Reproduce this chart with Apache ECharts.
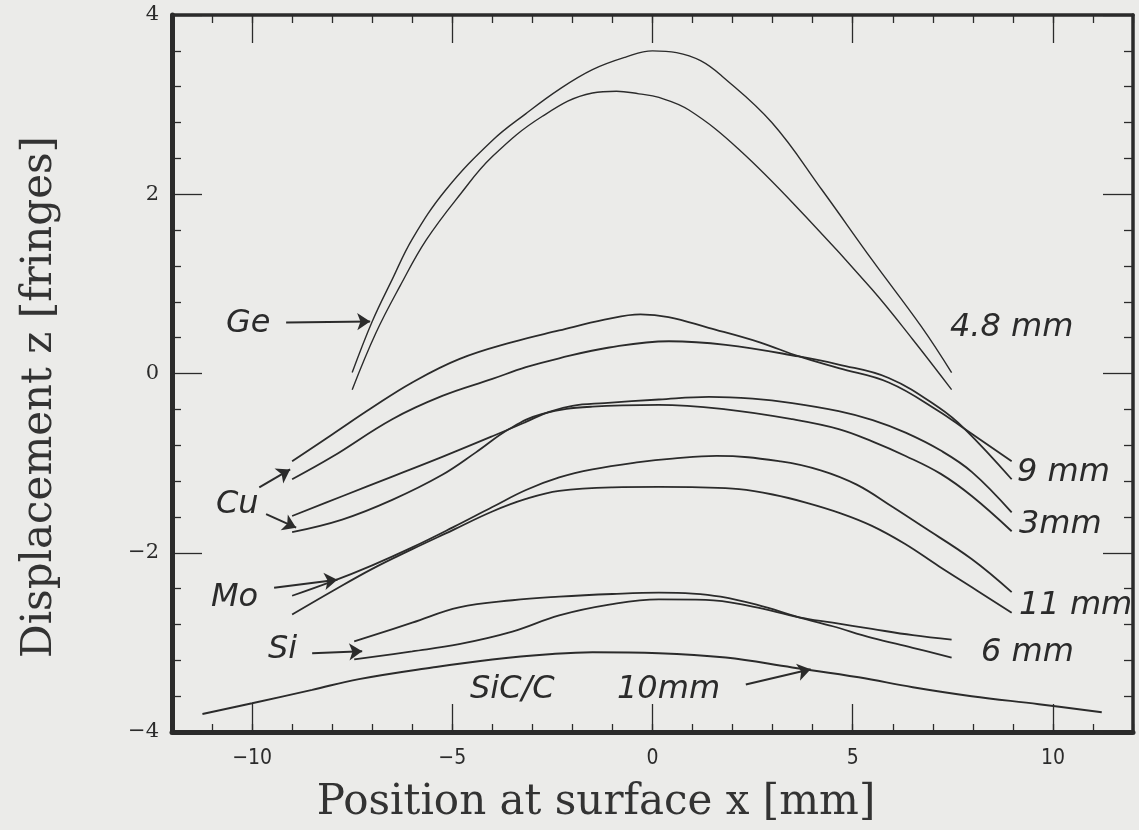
<!DOCTYPE html>
<html>
<head>
<meta charset="utf-8">
<script src="https://cdn.jsdelivr.net/npm/echarts@6/dist/echarts.min.js"></script>
<style>
html, body { margin: 0; background: #ebebe9; }
#chart { width: 1139px; height: 830px; }
</style>
</head>
<body>
<div id="chart"></div>
<script>
// measured curves, [x mm, z fringes]
var geOuter = [[-7.5,0.01],[-7.0,0.58],[-6.5,1.05],[-6.0,1.5],[-5.16,2.05],[-4.0,2.6],[-3.16,2.9],[-2.33,3.17],[-1.5,3.39],[-0.67,3.53],[0.0,3.6],[0.6,3.58],[1.2,3.49],[1.73,3.32],[2.98,2.8],[4.23,2.05],[5.48,1.27],[6.72,0.52],[7.47,0.01]];
var geInner = [[-7.5,-0.18],[-6.9,0.46],[-6.3,0.98],[-5.65,1.49],[-4.8,2.0],[-4.0,2.42],[-2.75,2.87],[-1.5,3.13],[-0.9,3.15],[-0.34,3.12],[0.16,3.08],[0.91,2.94],[2.16,2.5],[3.83,1.75],[5.48,0.94],[6.5,0.38],[7.47,-0.18]];
var cu9a = [[-9,-0.98],[-8,-0.68],[-7,-0.38],[-6,-0.1],[-4.83,0.16],[-3.5,0.35],[-2.33,0.48],[-1.2,0.6],[-0.3,0.66],[0.4,0.63],[1.4,0.51],[2.66,0.35],[3.66,0.19],[4.65,0.06],[5.9,-0.1],[7.15,-0.42],[7.8,-0.62],[8.97,-0.98]];
var cu9b = [[-9,-1.18],[-8,-0.93],[-6.5,-0.51],[-5.25,-0.25],[-4,-0.06],[-3.16,0.07],[-2.33,0.17],[-1.08,0.29],[0.41,0.36],[1.83,0.32],[3.66,0.19],[4.65,0.1],[5.9,-0.05],[7.15,-0.38],[7.8,-0.62],[8.97,-1.18]];
var cu3a = [[-9,-1.59],[-7.75,-1.37],[-6.5,-1.15],[-5.25,-0.93],[-4,-0.7],[-3.16,-0.54],[-2.6,-0.43],[-2,-0.36],[-1.2,-0.33],[0.16,-0.29],[1.41,-0.26],[2.5,-0.28],[3.49,-0.33],[4.65,-0.42],[5.5,-0.52],[6.32,-0.66],[7.2,-0.86],[7.98,-1.1],[8.97,-1.55]];
var cu3b = [[-9,-1.77],[-7.75,-1.63],[-6.5,-1.41],[-5.25,-1.13],[-4.41,-0.88],[-3.58,-0.62],[-2.75,-0.45],[-1.5,-0.37],[0.16,-0.35],[1.83,-0.4],[3.49,-0.51],[4.65,-0.62],[5.5,-0.76],[6.32,-0.92],[7.2,-1.12],[7.98,-1.37],[8.97,-1.76]];
var mo11a = [[-9,-2.48],[-8,-2.32],[-7,-2.14],[-6,-1.94],[-5,-1.72],[-4,-1.49],[-3.16,-1.3],[-2.33,-1.16],[-1.5,-1.07],[-0.34,-0.99],[0.5,-0.95],[1.6,-0.92],[3.2,-0.98],[4.2,-1.08],[5.1,-1.24],[6.0,-1.49],[6.72,-1.7],[7.97,-2.07],[8.97,-2.44]];
var mo11b = [[-9,-2.69],[-8,-2.43],[-7,-2.18],[-6,-1.96],[-5,-1.75],[-4,-1.54],[-3.16,-1.4],[-2.33,-1.31],[-1,-1.27],[0.16,-1.265],[1.2,-1.27],[2.16,-1.29],[3.0,-1.35],[3.83,-1.44],[4.7,-1.56],[5.48,-1.7],[6.3,-1.9],[7.15,-2.15],[8.1,-2.42],[8.97,-2.67]];
var si6a = [[-7.45,-2.99],[-6,-2.78],[-4.83,-2.61],[-3.5,-2.53],[-2.33,-2.49],[-1,-2.46],[0.16,-2.445],[1.0,-2.455],[1.7,-2.49],[2.6,-2.58],[3.66,-2.72],[4.5,-2.82],[5.48,-2.95],[6.5,-3.06],[7.47,-3.17]];
var si6b = [[-7.45,-3.19],[-6,-3.1],[-4.83,-3.02],[-3.5,-2.88],[-2.33,-2.7],[-1.08,-2.58],[0.16,-2.52],[1.33,-2.525],[2.5,-2.6],[3.66,-2.72],[4.5,-2.78],[5.48,-2.85],[6.5,-2.92],[7.47,-2.97]];
var sic10 = [[-11.24,-3.8],[-10,-3.68],[-8.5,-3.53],[-7.33,-3.41],[-5.5,-3.28],[-4,-3.19],[-2.5,-3.13],[-1.5,-3.11],[0.16,-3.12],[1.83,-3.17],[3.49,-3.28],[5.15,-3.39],[6.5,-3.5],[7.97,-3.6],[9.65,-3.69],[11.22,-3.78]];

var xMajorTicks = [-10, -5, 0, 5, 10];

// annotation arrows, from label to curve, in data units
var arrows = [
	[[-9.15, 0.57], [-7.05, 0.58]],
	[[-9.82, -1.27], [-9.05, -1.07]],
	[[-9.65, -1.57], [-8.9, -1.72]],
	[[-9.45, -2.39], [-7.87, -2.3]],
	[[-8.5, -3.12], [-7.25, -3.1]],
	[[2.33, -3.47], [3.95, -3.3]]
];

var INK = '#2b2b2b';
var LABELFONT = 'italic 32px "DejaVu Sans"';
var TITLEFONT = '"DejaVu Serif"';

function curve(name, data, width){
	return {
		name: name,
		type: 'line',
		data: data,
		smooth: 0.4,
		showSymbol: false,
		silent: true,
		lineStyle: { color: INK, width: width }
	};
}

function label(text, x, y){
	return {
		type: 'text',
		x: x,
		y: y,
		style: {
			text: text,
			font: LABELFONT,
			fill: INK,
			align: 'left',
			verticalAlign: 'middle',
			textAlign: 'left',
			textVerticalAlign: 'middle'
		}
	};
}

function minus(v){
	return String(v).replace('-', '\u2212');
}

var chart = echarts.init(document.getElementById('chart'));

var gridBox = { left: 172, right: 6, top: 15, bottom: 98 };

function frameLine(w){
	return { show: true, onZero: false, lineStyle: { color: INK, width: w } };
}
var tickStyle = { color: INK, width: 1.3 };

var option = {
	backgroundColor: '#ebebe9',
	animation: false,
	grid: [
		Object.assign({}, gridBox),
		Object.assign({}, gridBox)
	],
	xAxis: [
		{
			gridIndex: 0, type: 'value', position: 'bottom', min: -12, max: 12,
			axisLine: frameLine(5),
			axisTick: { show: true, inside: true, length: 28, customValues: xMajorTicks, lineStyle: tickStyle },
			axisLabel: { customValues: xMajorTicks, formatter: minus, margin: 16, fontFamily: 'DejaVu Sans Condensed', fontSize: 21, color: INK },
			splitLine: { show: false }
		},
		{
			gridIndex: 0, type: 'value', position: 'top', min: -12, max: 12,
			axisLine: frameLine(3.5),
			axisTick: { show: true, inside: true, length: 28, customValues: xMajorTicks, lineStyle: tickStyle },
			axisLabel: { show: false },
			splitLine: { show: false }
		},
		{
			gridIndex: 1, type: 'value', position: 'bottom', min: -12, max: 12, interval: 1,
			axisLine: { show: false, onZero: false },
			axisTick: { show: true, inside: true, length: 8, lineStyle: tickStyle },
			axisLabel: { show: false },
			splitLine: { show: false }
		},
		{
			gridIndex: 1, type: 'value', position: 'top', min: -12, max: 12, interval: 1,
			axisLine: { show: false, onZero: false },
			axisTick: { show: true, inside: true, length: 8, lineStyle: tickStyle },
			axisLabel: { show: false },
			splitLine: { show: false }
		}
	],
	yAxis: [
		{
			gridIndex: 0, type: 'value', position: 'left', min: -4, max: 4, interval: 2,
			axisLine: frameLine(5),
			axisTick: { show: true, inside: true, length: 30, lineStyle: tickStyle },
			minorTick: { show: true, splitNumber: 5, length: 9, lineStyle: tickStyle },
			axisLabel: { formatter: minus, margin: 13, fontFamily: TITLEFONT, fontSize: 21, color: INK },
			splitLine: { show: false },
			minorSplitLine: { show: false }
		},
		{
			gridIndex: 0, type: 'value', position: 'right', min: -4, max: 4, interval: 2,
			axisLine: frameLine(3.5),
			axisTick: { show: true, inside: true, length: 30, lineStyle: tickStyle },
			minorTick: { show: true, splitNumber: 5, length: 9, lineStyle: tickStyle },
			axisLabel: { show: false },
			splitLine: { show: false },
			minorSplitLine: { show: false }
		},
		{
			gridIndex: 1, type: 'value', min: -4, max: 4, show: false,
			axisLine: { onZero: false }
		}
	],
	series: [
		curve('Ge 4.8 mm a', geOuter, 1.4),
		curve('Ge 4.8 mm b', geInner, 1.4),
		curve('Cu 9 mm a', cu9a, 1.8),
		curve('Cu 9 mm b', cu9b, 1.8),
		curve('Cu 3 mm a', cu3a, 1.8),
		curve('Cu 3 mm b', cu3b, 1.8),
		curve('Mo 11 mm a', mo11a, 1.8),
		curve('Mo 11 mm b', mo11b, 1.8),
		curve('Si 6 mm a', si6a, 1.8),
		curve('Si 6 mm b', si6b, 1.8),
		curve('SiC/C 10 mm', sic10, 2),
		{
			type: 'lines',
			coordinateSystem: 'cartesian2d',
			xAxisIndex: 0,
			yAxisIndex: 0,
			silent: true,
			symbol: ['none', 'arrow'],
			symbolSize: 13,
			lineStyle: { color: INK, width: 2, opacity: 1, curveness: 0 },
			data: arrows.map(function(a){ return { coords: a }; })
		}
	],
	graphic: [
		label('Ge', 226, 324),
		label('4.8 mm', 950, 328),
		label('Cu', 216, 505),
		label('Mo', 211, 598),
		label('Si', 268, 650),
		label('SiC/C', 470, 690),
		label('10mm', 617, 690),
		label('9 mm', 1017, 473),
		label('3mm', 1019, 525),
		label('11 mm', 1019, 606),
		label('6 mm', 981, 653),
		{
			type: 'text',
			x: 596,
			y: 803,
			style: {
				text: 'Position at surface x [mm]',
				font: '42px ' + TITLEFONT,
				fill: '#333',
				align: 'center', verticalAlign: 'middle',
				textAlign: 'center', textVerticalAlign: 'middle'
			}
		},
		{
			type: 'text',
			x: 40,
			y: 397,
			rotation: Math.PI / 2,
			style: {
				text: 'Displacement z [fringes]',
				font: '42px ' + TITLEFONT,
				fill: '#333',
				align: 'center', verticalAlign: 'middle',
				textAlign: 'center', textVerticalAlign: 'middle'
			}
		}
	]
};

chart.setOption(option);
</script>
</body>
</html>
